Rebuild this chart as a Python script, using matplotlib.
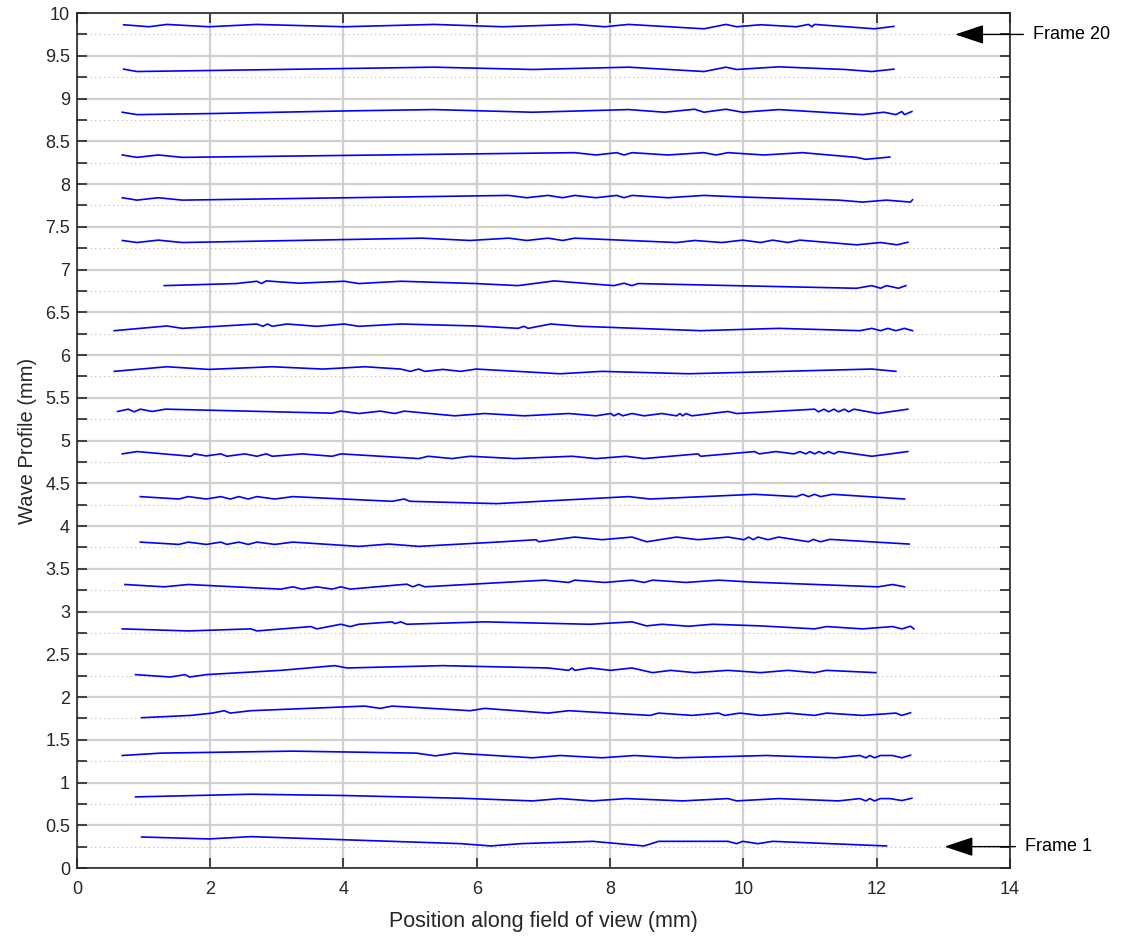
import matplotlib
matplotlib.use("Agg")
import matplotlib.pyplot as plt
from matplotlib.ticker import MultipleLocator, FuncFormatter

plt.rcParams['font.family'] = ['Liberation Sans', 'DejaVu Sans']

# ---- data: wave profile of each frame (x in mm, y in mm) ----
f1_x = [0.97, 1.98, 2.61, 5.76, 6.21, 6.66, 7.74, 8.51, 8.73, 9.77, 9.90, 9.99, 10.22, 10.44, 12.15]
f1_y = [0.363, 0.340, 0.367, 0.285, 0.258, 0.285, 0.312, 0.258, 0.312, 0.312, 0.285, 0.312, 0.285, 0.312, 0.258]

f2_x = [0.88, 2.61, 4.01, 5.76, 6.84, 7.25, 7.74, 8.24, 9.09, 9.77, 9.90, 10.53, 11.43, 11.75, 11.84, 11.90, 11.97, 12.06, 12.20, 12.38, 12.53]
f2_y = [0.832, 0.863, 0.848, 0.816, 0.785, 0.812, 0.785, 0.812, 0.785, 0.812, 0.785, 0.812, 0.785, 0.812, 0.785, 0.812, 0.785, 0.812, 0.812, 0.789, 0.816]

f3_x = [0.68, 1.26, 3.24, 5.09, 5.38, 5.67, 6.84, 7.25, 7.88, 8.37, 9.00, 10.35, 11.39, 11.75, 11.84, 11.90, 11.97, 12.06, 12.24, 12.38, 12.51]
f3_y = [1.316, 1.344, 1.367, 1.344, 1.312, 1.344, 1.289, 1.316, 1.289, 1.316, 1.289, 1.316, 1.289, 1.316, 1.289, 1.316, 1.289, 1.316, 1.316, 1.289, 1.320]

f4_x = [0.97, 1.71, 2.03, 2.21, 2.30, 2.61, 4.32, 4.55, 4.73, 5.90, 6.12, 7.07, 7.38, 8.60, 8.73, 9.23, 9.63, 9.72, 9.95, 10.26, 10.67, 11.07, 11.25, 11.79, 12.29, 12.38, 12.51]
f4_y = [1.758, 1.785, 1.812, 1.840, 1.812, 1.840, 1.894, 1.867, 1.894, 1.840, 1.867, 1.812, 1.840, 1.785, 1.812, 1.785, 1.812, 1.785, 1.812, 1.785, 1.812, 1.785, 1.812, 1.785, 1.812, 1.785, 1.816]

f5_x = [0.88, 1.40, 1.62, 1.69, 1.94, 3.06, 3.87, 4.05, 5.49, 7.07, 7.38, 7.43, 7.47, 7.70, 8.01, 8.33, 8.64, 8.91, 9.27, 9.77, 10.26, 10.67, 11.07, 11.25, 11.99]
f5_y = [2.262, 2.234, 2.262, 2.234, 2.262, 2.312, 2.367, 2.340, 2.367, 2.340, 2.312, 2.340, 2.312, 2.340, 2.312, 2.340, 2.285, 2.312, 2.285, 2.312, 2.285, 2.312, 2.285, 2.312, 2.285]

f6_x = [0.68, 1.67, 2.61, 2.70, 3.51, 3.60, 3.96, 4.10, 4.23, 4.73, 4.77, 4.86, 4.95, 6.12, 7.70, 8.33, 8.55, 8.78, 9.18, 9.54, 10.26, 11.07, 11.25, 11.79, 12.24, 12.38, 12.51, 12.56]
f6_y = [2.797, 2.773, 2.797, 2.773, 2.824, 2.797, 2.851, 2.824, 2.851, 2.879, 2.859, 2.879, 2.851, 2.879, 2.851, 2.879, 2.832, 2.851, 2.828, 2.851, 2.832, 2.797, 2.824, 2.797, 2.824, 2.797, 2.828, 2.797]

f7_x = [0.72, 1.31, 1.67, 3.06, 3.24, 3.38, 3.60, 3.83, 3.96, 4.10, 4.95, 5.04, 5.13, 5.22, 7.02, 7.38, 7.47, 7.92, 8.33, 8.51, 8.64, 9.14, 9.63, 10.13, 12.02, 12.24, 12.42]
f7_y = [3.316, 3.289, 3.316, 3.262, 3.289, 3.262, 3.289, 3.262, 3.289, 3.262, 3.320, 3.289, 3.316, 3.289, 3.367, 3.340, 3.367, 3.340, 3.367, 3.340, 3.367, 3.340, 3.367, 3.344, 3.289, 3.316, 3.289]

f8_x = [0.95, 1.53, 1.67, 1.94, 2.16, 2.25, 2.43, 2.57, 2.70, 2.97, 3.24, 4.23, 4.68, 5.13, 6.30, 6.89, 6.93, 7.47, 7.88, 8.33, 8.55, 9.00, 9.32, 9.77, 10.01, 10.08, 10.15, 10.22, 10.37, 10.53, 10.98, 11.05, 11.16, 11.30, 12.49]
f8_y = [3.812, 3.785, 3.812, 3.785, 3.812, 3.785, 3.812, 3.785, 3.812, 3.785, 3.812, 3.762, 3.789, 3.762, 3.812, 3.840, 3.816, 3.871, 3.840, 3.871, 3.816, 3.871, 3.840, 3.871, 3.840, 3.871, 3.840, 3.871, 3.840, 3.871, 3.816, 3.844, 3.816, 3.844, 3.789]

f9_x = [0.95, 1.53, 1.67, 1.94, 2.16, 2.30, 2.43, 2.57, 2.70, 2.97, 3.24, 4.73, 4.91, 5.00, 6.30, 8.28, 8.60, 10.17, 10.80, 10.89, 10.98, 11.07, 11.16, 11.34, 12.42]
f9_y = [4.344, 4.316, 4.344, 4.316, 4.344, 4.316, 4.344, 4.316, 4.344, 4.316, 4.344, 4.289, 4.316, 4.289, 4.262, 4.344, 4.316, 4.371, 4.344, 4.371, 4.344, 4.371, 4.344, 4.371, 4.316]

f10_x = [0.68, 0.90, 1.71, 1.76, 1.94, 2.16, 2.25, 2.52, 2.70, 2.84, 2.93, 3.38, 3.83, 3.96, 5.13, 5.27, 5.63, 5.90, 6.57, 7.43, 7.79, 8.24, 8.51, 9.32, 9.36, 10.17, 10.24, 10.49, 10.76, 10.85, 10.94, 11.00, 11.07, 11.14, 11.21, 11.28, 11.36, 11.43, 11.93, 12.47]
f10_y = [4.844, 4.871, 4.816, 4.844, 4.820, 4.844, 4.816, 4.844, 4.816, 4.844, 4.816, 4.844, 4.816, 4.844, 4.789, 4.816, 4.789, 4.816, 4.789, 4.816, 4.789, 4.816, 4.789, 4.844, 4.816, 4.871, 4.844, 4.871, 4.844, 4.871, 4.844, 4.871, 4.844, 4.871, 4.844, 4.871, 4.844, 4.871, 4.816, 4.871]

f11_x = [0.61, 0.77, 0.86, 0.95, 1.13, 1.33, 3.83, 3.96, 4.23, 4.55, 4.77, 4.91, 5.67, 6.12, 6.71, 7.38, 7.79, 8.01, 8.06, 8.13, 8.19, 8.33, 8.51, 8.78, 9.00, 9.05, 9.09, 9.14, 9.23, 9.77, 9.90, 11.07, 11.13, 11.21, 11.28, 11.36, 11.43, 11.52, 11.58, 11.66, 12.02, 12.47]
f11_y = [5.340, 5.367, 5.336, 5.367, 5.340, 5.367, 5.320, 5.344, 5.316, 5.344, 5.316, 5.344, 5.289, 5.316, 5.289, 5.316, 5.289, 5.316, 5.289, 5.316, 5.289, 5.316, 5.289, 5.316, 5.289, 5.316, 5.289, 5.316, 5.289, 5.340, 5.316, 5.367, 5.336, 5.367, 5.336, 5.367, 5.336, 5.367, 5.336, 5.367, 5.316, 5.367]

f12_x = [0.56, 1.35, 1.98, 2.93, 3.69, 4.32, 4.86, 5.00, 5.13, 5.22, 5.49, 5.76, 5.99, 7.25, 7.88, 9.18, 11.93, 12.29]
f12_y = [5.809, 5.863, 5.832, 5.863, 5.836, 5.863, 5.836, 5.809, 5.836, 5.809, 5.832, 5.809, 5.836, 5.781, 5.809, 5.781, 5.836, 5.809]

f13_x = [0.56, 1.35, 1.58, 2.70, 2.79, 2.86, 2.93, 3.15, 3.60, 4.01, 4.23, 4.86, 5.99, 6.62, 6.71, 6.77, 7.11, 7.56, 9.36, 10.53, 11.75, 11.93, 12.06, 12.17, 12.29, 12.42, 12.54]
f13_y = [6.285, 6.340, 6.312, 6.363, 6.336, 6.363, 6.336, 6.363, 6.336, 6.363, 6.336, 6.363, 6.340, 6.312, 6.336, 6.312, 6.363, 6.336, 6.285, 6.312, 6.285, 6.312, 6.285, 6.312, 6.285, 6.312, 6.285]

f14_x = [1.31, 2.39, 2.70, 2.77, 2.84, 3.33, 4.01, 4.23, 4.86, 5.99, 6.62, 7.16, 8.06, 8.21, 8.33, 8.42, 11.70, 11.93, 12.06, 12.15, 12.33, 12.44]
f14_y = [6.812, 6.836, 6.863, 6.836, 6.867, 6.840, 6.863, 6.836, 6.863, 6.836, 6.812, 6.867, 6.812, 6.840, 6.812, 6.836, 6.781, 6.812, 6.781, 6.812, 6.781, 6.812]

f15_x = [0.68, 0.90, 1.22, 1.58, 5.18, 5.90, 6.48, 6.75, 7.07, 7.29, 7.47, 9.00, 9.27, 9.68, 9.99, 10.26, 10.44, 10.67, 10.85, 11.70, 12.06, 12.31, 12.47]
f15_y = [7.340, 7.316, 7.344, 7.316, 7.367, 7.340, 7.367, 7.340, 7.367, 7.340, 7.367, 7.316, 7.340, 7.316, 7.344, 7.316, 7.344, 7.316, 7.344, 7.289, 7.316, 7.289, 7.320]

f16_x = [0.68, 0.90, 1.22, 1.58, 6.48, 6.75, 7.07, 7.29, 7.47, 7.79, 8.10, 8.21, 8.33, 8.87, 9.41, 9.99, 11.43, 11.79, 12.15, 12.51, 12.54]
f16_y = [7.840, 7.812, 7.840, 7.812, 7.867, 7.840, 7.867, 7.840, 7.867, 7.840, 7.867, 7.840, 7.867, 7.840, 7.867, 7.848, 7.812, 7.789, 7.812, 7.789, 7.816]

f17_x = [0.68, 0.90, 1.22, 1.58, 7.47, 7.79, 8.10, 8.21, 8.33, 8.87, 9.41, 9.59, 9.77, 10.31, 10.89, 11.70, 11.84, 12.20]
f17_y = [8.340, 8.312, 8.340, 8.312, 8.367, 8.340, 8.367, 8.340, 8.367, 8.340, 8.367, 8.340, 8.367, 8.340, 8.367, 8.312, 8.289, 8.316]

f18_x = [0.68, 0.90, 1.98, 4.01, 5.36, 6.84, 8.28, 8.82, 9.27, 9.41, 9.74, 9.99, 10.53, 11.79, 12.11, 12.29, 12.38, 12.42, 12.53]
f18_y = [8.840, 8.812, 8.824, 8.855, 8.871, 8.840, 8.871, 8.840, 8.875, 8.840, 8.875, 8.840, 8.871, 8.812, 8.840, 8.812, 8.848, 8.812, 8.848]

f19_x = [0.70, 0.90, 1.98, 4.01, 5.36, 6.84, 8.28, 9.41, 9.74, 9.90, 10.53, 11.52, 11.93, 12.26]
f19_y = [9.344, 9.316, 9.328, 9.351, 9.367, 9.340, 9.367, 9.316, 9.367, 9.340, 9.371, 9.340, 9.316, 9.344]

f20_x = [0.70, 1.08, 1.35, 1.98, 2.70, 4.01, 5.36, 6.39, 7.47, 7.92, 8.28, 9.41, 9.74, 9.90, 10.26, 10.80, 10.98, 11.03, 11.07, 11.97, 12.26]
f20_y = [9.863, 9.840, 9.867, 9.840, 9.867, 9.840, 9.867, 9.840, 9.867, 9.840, 9.867, 9.816, 9.867, 9.840, 9.863, 9.840, 9.867, 9.840, 9.867, 9.816, 9.844]

frames_x = [f1_x, f2_x, f3_x, f4_x, f5_x, f6_x, f7_x, f8_x, f9_x, f10_x,
            f11_x, f12_x, f13_x, f14_x, f15_x, f16_x, f17_x, f18_x, f19_x, f20_x]
frames_y = [f1_y, f2_y, f3_y, f4_y, f5_y, f6_y, f7_y, f8_y, f9_y, f10_y,
            f11_y, f12_y, f13_y, f14_y, f15_y, f16_y, f17_y, f18_y, f19_y, f20_y]

annot_labels = ["Frame 1", "Frame 20"]
annot_y = [0.25, 9.75]

# ---- figure ----
fig = plt.figure(figsize=(11.27, 9.39), dpi=100)
ax = fig.add_axes([0.0683, 0.0756, 0.8277, 0.9105])

for xs, ys in zip(frames_x, frames_y):
    ax.plot(xs, ys, color='#0000ff', lw=1.2, zorder=3)

ax.set_xlim(0, 14)
ax.set_ylim(0, 10)
ax.xaxis.set_major_locator(MultipleLocator(2))
ax.yaxis.set_major_locator(MultipleLocator(0.5))
ax.yaxis.set_minor_locator(MultipleLocator(0.25))
ax.yaxis.set_major_formatter(FuncFormatter(lambda v, p: f"{v:g}"))

ax.grid(True, which='major', color='#d0d0d0', lw=1.6, zorder=0)
ax.grid(True, which='minor', axis='y', color='#b8b8b8', lw=0.8,
        linestyle=(0, (1, 3)), zorder=0)
ax.set_axisbelow(True)

ax.tick_params(which='both', direction='in', top=True, right=True,
               length=7, width=1.2, color='#262626',
               labelsize=13, labelcolor='#262626')
ax.tick_params(axis='x', pad=9)
ax.tick_params(axis='y', pad=5)
for s in ax.spines.values():
    s.set_linewidth(1.2)
    s.set_color('#262626')

ax.set_xlabel('Position along field of view (mm)', fontsize=15.5, color='#262626', labelpad=10)
ax.set_ylabel('Wave Profile (mm)', fontsize=14.5, color='#262626', labelpad=6)

# annotations
for lab, yv, xhead, xtxt in zip(annot_labels, annot_y, [13.02, 13.18], [14.23, 14.35]):
    ax.annotate(lab, xy=(xhead, yv), xytext=(xtxt, yv),
                textcoords='data', fontsize=13, color='black', va='center', ha='left',
                annotation_clip=False,
                arrowprops=dict(arrowstyle='-|>,head_length=0.9,head_width=0.3',
                                mutation_scale=20, color='black', lw=1.0,
                                shrinkA=5, shrinkB=0))

fig.savefig('out.png', dpi=100)
